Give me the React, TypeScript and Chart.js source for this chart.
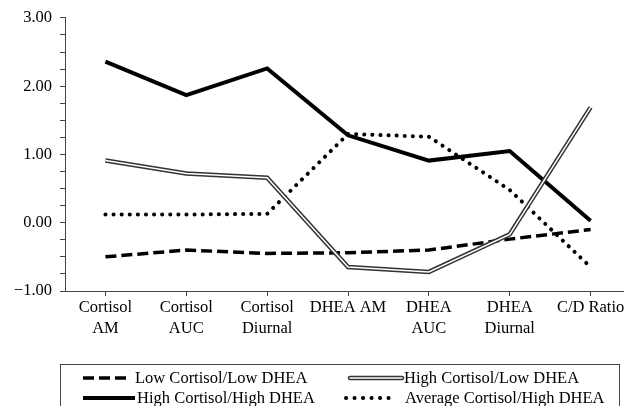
import { useEffect, useRef } from 'react';
import { Chart, registerables } from 'chart.js';

Chart.register(...registerables);

const FONT = '"Liberation Serif", "Times New Roman", serif';
const FS = 16.5;

const categories: (string | string[])[] = [
  ['Cortisol', 'AM'],
  ['Cortisol', 'AUC'],
  ['Cortisol', 'Diurnal'],
  'DHEA AM',
  ['DHEA', 'AUC'],
  ['DHEA', 'Diurnal'],
  'C/D Ratio',
];

const seriesNames = [
  'Low Cortisol/Low DHEA',
  'High Cortisol/Low DHEA',
  'High Cortisol/High DHEA',
  'Average Cortisol/High DHEA',
];

const lowLow = [-0.5, -0.4, -0.45, -0.44, -0.4, -0.24, -0.1];
const highLow = [0.91, 0.72, 0.66, -0.65, -0.72, -0.17, 1.69];
const highHigh = [2.36, 1.87, 2.26, 1.28, 0.91, 1.05, 0.03];
const avgHigh = [0.12, 0.12, 0.13, 1.3, 1.26, 0.48, -0.65];

const yMin = -1;
const yMax = 3;
const yStep = 0.25;

const fmt = (v: number) =>
  v < 0 ? '\u2212' + Math.abs(v).toFixed(2) : v.toFixed(2);

type Sample = (ctx: CanvasRenderingContext2D, x0: number, x1: number, y: number) => void;

const drawDashed: Sample = (ctx, x0, x1, y) => {
  ctx.save();
  ctx.strokeStyle = '#000';
  ctx.lineWidth = 3.5;
  ctx.setLineDash([11, 5]);
  ctx.beginPath();
  ctx.moveTo(x0, y);
  ctx.lineTo(x1, y);
  ctx.stroke();
  ctx.restore();
};
const drawDouble: Sample = (ctx, x0, x1, y) => {
  ctx.save();
  ctx.strokeStyle = '#333';
  ctx.lineWidth = 4.5;
  ctx.lineCap = 'round';
  ctx.beginPath();
  ctx.moveTo(x0, y);
  ctx.lineTo(x1, y);
  ctx.stroke();
  ctx.strokeStyle = '#fff';
  ctx.lineWidth = 1.5;
  ctx.beginPath();
  ctx.moveTo(x0, y);
  ctx.lineTo(x1, y);
  ctx.stroke();
  ctx.restore();
};
const drawSolid: Sample = (ctx, x0, x1, y) => {
  ctx.save();
  ctx.strokeStyle = '#000';
  ctx.lineWidth = 4;
  ctx.beginPath();
  ctx.moveTo(x0, y);
  ctx.lineTo(x1, y);
  ctx.stroke();
  ctx.restore();
};
const drawDotted: Sample = (ctx, x0, x1, y) => {
  ctx.save();
  ctx.strokeStyle = '#000';
  ctx.lineWidth = 4;
  ctx.lineCap = 'round';
  ctx.setLineDash([0.1, 8.4]);
  ctx.beginPath();
  ctx.moveTo(x0, y);
  ctx.lineTo(x1, y);
  ctx.stroke();
  ctx.restore();
};

const legendLayout = [
  { sample: drawDashed, x0: 83, x1: 127, tx: 135, y: 378 },
  { sample: drawDouble, x0: 350, x1: 402, tx: 404, y: 378 },
  { sample: drawSolid, x0: 83, x1: 135, tx: 137, y: 398 },
  { sample: drawDotted, x0: 346, x1: 390, tx: 405, y: 398 },
];

const boxLegend = {
  id: 'boxLegend',
  afterDraw(chart: Chart) {
    const ctx = chart.ctx;
    ctx.save();
    ctx.strokeStyle = '#444';
    ctx.lineWidth = 1;
    ctx.strokeRect(60.5, 364.5, 559, 50);
    ctx.font = `${FS}px ${FONT}`;
    ctx.fillStyle = '#000';
    ctx.textBaseline = 'middle';
    ctx.textAlign = 'left';
    legendLayout.forEach((it, i) => {
      it.sample(ctx, it.x0, it.x1, it.y);
      ctx.fillText(seriesNames[i], it.tx, it.y + 1);
    });
    ctx.restore();
  },
};

export default function App() {
  const ref = useRef<HTMLCanvasElement>(null);
  useEffect(() => {
    const chart = new Chart(ref.current!, {
      type: 'line',
      data: {
        labels: categories,
        datasets: [
          {
            label: seriesNames[0],
            data: lowLow,
            borderColor: '#000',
            borderWidth: 3.5,
            borderDash: [11, 5],
            pointRadius: 0,
            order: 2,
          },
          {
            label: seriesNames[1] + ' inner',
            data: highLow,
            borderColor: '#fff',
            borderWidth: 1.5,
            pointRadius: 0,
            order: 0,
          },
          {
            label: seriesNames[1],
            data: highLow,
            borderColor: '#333',
            borderWidth: 4.5,
            pointRadius: 0,
            order: 1,
          },
          {
            label: seriesNames[2],
            data: highHigh,
            borderColor: '#000',
            borderWidth: 4,
            pointRadius: 0,
            order: 2,
          },
          {
            label: seriesNames[3],
            data: avgHigh,
            borderColor: '#000',
            borderWidth: 4,
            borderDash: [0.1, 8],
            borderCapStyle: 'round',
            pointRadius: 0,
            order: 2,
          },
        ],
      },
      options: {
        responsive: false,
        animation: false,
        devicePixelRatio: 1,
        layout: { padding: { left: 0, top: 17, right: 9, bottom: 0 } },
        plugins: {
          legend: { display: false },
          tooltip: { enabled: false },
          title: { display: false },
        },
        scales: {
          x: {
            type: 'category',
            offset: true,
            afterFit: (s: any) => {
              s.height = 129;
            },
            grid: {
              display: true,
              drawOnChartArea: false,
              drawTicks: true,
              tickLength: 5,
              color: '#444',
              offset: false,
            },
            border: { display: true, color: '#444', width: 1 },
            ticks: {
              autoSkip: false,
              maxRotation: 0,
              minRotation: 0,
              padding: 2,
              color: '#000',
              font: { family: FONT, size: FS, lineHeight: 1.22 },
            },
          },
          y: {
            type: 'linear',
            min: yMin,
            max: yMax,
            afterFit: (s: any) => {
              s.width = 65;
            },
            grid: {
              display: true,
              drawOnChartArea: false,
              drawTicks: true,
              tickLength: 5,
              color: '#444',
            },
            border: { display: true, color: '#444', width: 1 },
            ticks: {
              stepSize: yStep,
              autoSkip: false,
              padding: 8,
              color: '#000',
              font: { family: FONT, size: FS },
              callback: (v: any) => (Number.isInteger(v) ? fmt(v) : ''),
            },
          },
        },
      },
      plugins: [boxLegend],
    });
    return () => chart.destroy();
  }, []);
  return (
    <div
      style={{
        position: 'fixed',
        left: 0,
        top: 0,
        width: 624,
        height: 406,
        overflow: 'hidden',
        background: '#fff',
      }}
    >
      <canvas ref={ref} width={640} height={420} style={{ display: 'block' }} />
    </div>
  );
}
